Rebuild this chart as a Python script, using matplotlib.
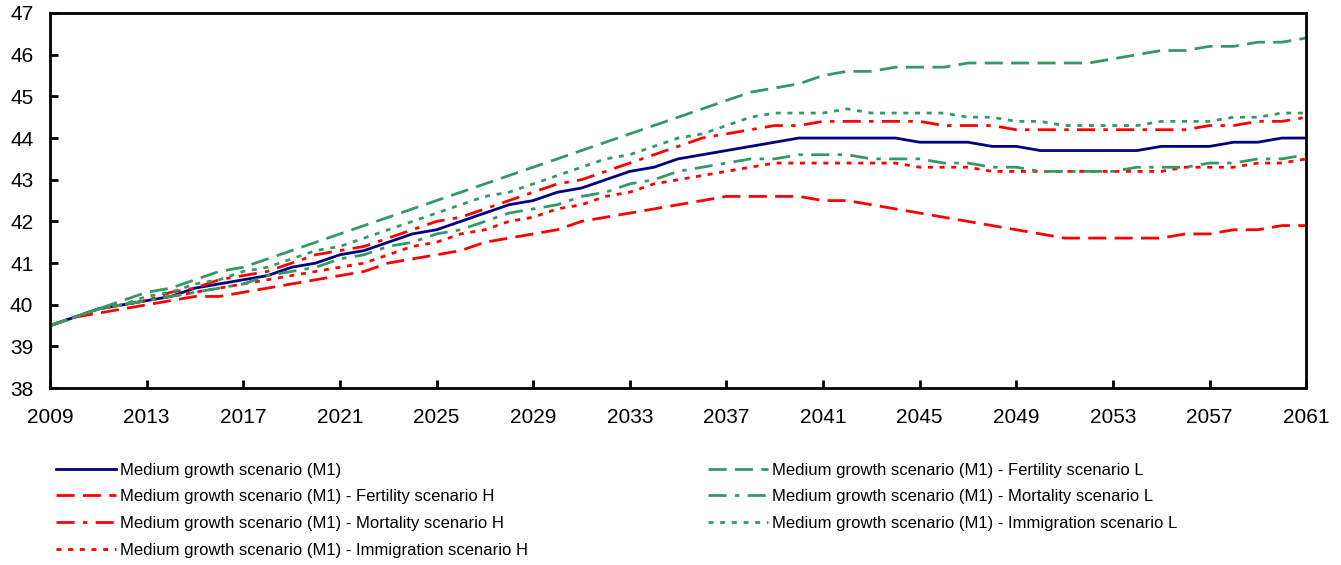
import numpy as np
import matplotlib.pyplot as plt

years = np.arange(2009, 2062)

m1 = [39.5, 39.7, 39.9, 40.0, 40.1, 40.2, 40.4, 40.5, 40.6, 40.7,
      40.9, 41.0, 41.2, 41.3, 41.5, 41.7, 41.8, 42.0, 42.2, 42.4,
      42.5, 42.7, 42.8, 43.0, 43.2, 43.3, 43.5, 43.6, 43.7, 43.8,
      43.9, 44.0, 44.0, 44.0, 44.0, 44.0, 43.9, 43.9, 43.9, 43.8,
      43.8, 43.7, 43.7, 43.7, 43.7, 43.7, 43.8, 43.8, 43.8, 43.9,
      43.9, 44.0, 44.0]

fert_h = [39.5, 39.7, 39.8, 39.9, 40.0, 40.1, 40.2, 40.2, 40.3, 40.4,
          40.5, 40.6, 40.7, 40.8, 41.0, 41.1, 41.2, 41.3, 41.5, 41.6,
          41.7, 41.8, 42.0, 42.1, 42.2, 42.3, 42.4, 42.5, 42.6, 42.6,
          42.6, 42.6, 42.5, 42.5, 42.4, 42.3, 42.2, 42.1, 42.0, 41.9,
          41.8, 41.7, 41.6, 41.6, 41.6, 41.6, 41.6, 41.7, 41.7, 41.8,
          41.8, 41.9, 41.9]

mort_h = [39.5, 39.7, 39.9, 40.0, 40.1, 40.3, 40.4, 40.6, 40.7, 40.8,
          41.0, 41.2, 41.3, 41.4, 41.6, 41.8, 42.0, 42.1, 42.3, 42.5,
          42.7, 42.9, 43.0, 43.2, 43.4, 43.6, 43.8, 44.0, 44.1, 44.2,
          44.3, 44.3, 44.4, 44.4, 44.4, 44.4, 44.4, 44.3, 44.3, 44.3,
          44.2, 44.2, 44.2, 44.2, 44.2, 44.2, 44.2, 44.2, 44.3, 44.3,
          44.4, 44.4, 44.5]

imm_h = [39.5, 39.7, 39.9, 40.0, 40.1, 40.2, 40.3, 40.4, 40.5, 40.6,
         40.7, 40.8, 40.9, 41.0, 41.2, 41.4, 41.5, 41.7, 41.8, 42.0,
         42.1, 42.3, 42.4, 42.6, 42.7, 42.9, 43.0, 43.1, 43.2, 43.3,
         43.4, 43.4, 43.4, 43.4, 43.4, 43.4, 43.3, 43.3, 43.3, 43.2,
         43.2, 43.2, 43.2, 43.2, 43.2, 43.2, 43.2, 43.3, 43.3, 43.3,
         43.4, 43.4, 43.5]

fert_l = [39.5, 39.7, 39.9, 40.1, 40.3, 40.4, 40.6, 40.8, 40.9, 41.1,
          41.3, 41.5, 41.7, 41.9, 42.1, 42.3, 42.5, 42.7, 42.9, 43.1,
          43.3, 43.5, 43.7, 43.9, 44.1, 44.3, 44.5, 44.7, 44.9, 45.1,
          45.2, 45.3, 45.5, 45.6, 45.6, 45.7, 45.7, 45.7, 45.8, 45.8,
          45.8, 45.8, 45.8, 45.8, 45.9, 46.0, 46.1, 46.1, 46.2, 46.2,
          46.3, 46.3, 46.4]

mort_l = [39.5, 39.7, 39.9, 40.0, 40.1, 40.2, 40.3, 40.4, 40.5, 40.7,
          40.8, 40.9, 41.1, 41.2, 41.4, 41.5, 41.7, 41.8, 42.0, 42.2,
          42.3, 42.4, 42.6, 42.7, 42.9, 43.0, 43.2, 43.3, 43.4, 43.5,
          43.5, 43.6, 43.6, 43.6, 43.5, 43.5, 43.5, 43.4, 43.4, 43.3,
          43.3, 43.2, 43.2, 43.2, 43.2, 43.3, 43.3, 43.3, 43.4, 43.4,
          43.5, 43.5, 43.6]

imm_l = [39.5, 39.7, 39.9, 40.0, 40.2, 40.3, 40.5, 40.6, 40.8, 40.9,
         41.1, 41.3, 41.4, 41.6, 41.8, 42.0, 42.2, 42.4, 42.6, 42.7,
         42.9, 43.1, 43.3, 43.5, 43.6, 43.8, 44.0, 44.1, 44.3, 44.5,
         44.6, 44.6, 44.6, 44.7, 44.6, 44.6, 44.6, 44.6, 44.5, 44.5,
         44.4, 44.4, 44.3, 44.3, 44.3, 44.3, 44.4, 44.4, 44.4, 44.5,
         44.5, 44.6, 44.6]

labels = ["Medium growth scenario (M1)",
          "Medium growth scenario (M1) - Fertility scenario H",
          "Medium growth scenario (M1) - Mortality scenario H",
          "Medium growth scenario (M1) - Immigration scenario H",
          "Medium growth scenario (M1) - Fertility scenario L",
          "Medium growth scenario (M1) - Mortality scenario L",
          "Medium growth scenario (M1) - Immigration scenario L"]

navy = "#000080"
red = "#FF0000"
green = "#339966"

# dash patterns (in line-width units)
dashed = (0, (6.5, 3))
dashdot = (0, (6.5, 3, 1.6, 3))
dotted = (0, (1.8, 2.4))

plt.rcParams["font.family"] = ["Liberation Sans", "DejaVu Sans"]

fig = plt.figure(figsize=(13.41, 5.65), dpi=100)
ax = fig.add_axes([0.0373, 0.313, 0.9367, 0.664])

lw = 2.0
ax.plot(years, m1, color=navy, lw=lw, label=labels[0])
ax.plot(years, fert_h, color=red, lw=lw, ls=dashed, label=labels[1])
ax.plot(years, mort_h, color=red, lw=lw, ls=dashdot, label=labels[2])
ax.plot(years, imm_h, color=red, lw=lw, ls=dotted, label=labels[3])
ax.plot(years, fert_l, color=green, lw=lw, ls=dashed, label=labels[4])
ax.plot(years, mort_l, color=green, lw=lw, ls=dashdot, label=labels[5])
ax.plot(years, imm_l, color=green, lw=lw, ls=dotted, label=labels[6])

ax.set_xlim(2009, 2061)
ax.set_ylim(38, 47)
ax.set_xticks(np.arange(2009, 2062, 4))
ax.set_yticks(np.arange(38, 48, 1))
ax.tick_params(direction="in", length=6, width=2, labelsize=15)
ax.tick_params(axis="y", pad=12)
ax.tick_params(axis="x", pad=14)
for s in ax.spines.values():
    s.set_linewidth(2)
    s.set_color("black")

leg = fig.legend(loc="upper left", bbox_to_anchor=(0.0358, 0.196), ncol=2,
                 frameon=False, borderpad=0, handlelength=3.6, handletextpad=0.24,
                 columnspacing=10.75, labelspacing=0.7,
                 prop={"size": 12})

fig.savefig("out.png", dpi=100)
